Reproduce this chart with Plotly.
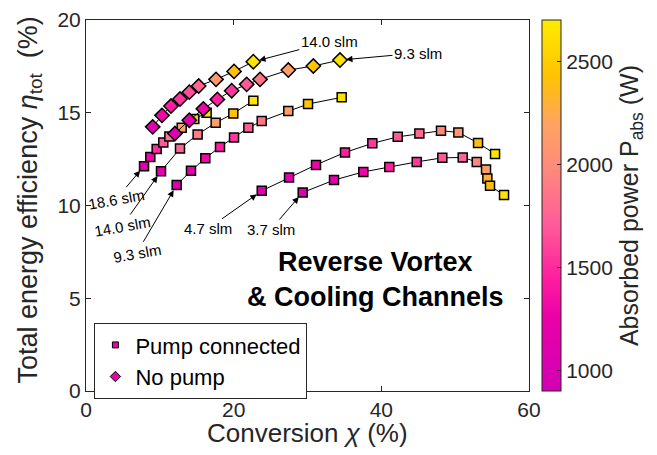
import plotly.graph_objects as go

# ---------------- data ----------------
# No pump (diamonds)
np14_x = [9.03, 10.29, 11.51, 12.73, 13.99, 15.26, 17.61, 20.05, 22.66]
np14_y = [14.24, 14.86, 15.36, 15.74, 16.11, 16.44, 16.80, 17.23, 17.75]
np14_p = [1100, 1300, 1450, 1550, 1650, 1750, 2100, 2400, 2650]

np93_x = [12.05, 13.99, 15.89, 17.79, 19.73, 21.76, 23.57, 27.40, 30.79, 34.40]
np93_y = [13.88, 14.60, 15.21, 15.72, 16.19, 16.53, 16.80, 17.30, 17.52, 17.84]
np93_p = [1050, 1150, 1300, 1450, 1550, 1700, 1850, 2150, 2450, 2650]

# Pump connected (squares)
p186_x = [7.86, 8.71, 9.57, 10.47, 11.29, 12.96, 14.67, 16.34]
p186_y = [12.12, 12.62, 13.04, 13.40, 13.72, 14.19, 14.66, 15.00]
p186_p = [1050, 1300, 1500, 1700, 1850, 2150, 2500, 2650]

p140_x = [10.16, 12.73, 15.12, 17.56, 19.95, 22.66]
p140_y = [11.85, 13.07, 13.83, 14.46, 14.96, 15.65]
p140_p = [1100, 1750, 1900, 2150, 2400, 2650]

p93_x = [12.28, 14.22, 16.16, 18.15, 20.05, 21.99, 23.80, 27.40, 30.07, 34.63]
p93_y = [11.10, 11.87, 12.55, 13.16, 13.67, 14.19, 14.55, 15.09, 15.47, 15.83]
p93_p = [1050, 1150, 1300, 1450, 1550, 1700, 1850, 2150, 2450, 2650]

p47_x = [23.80, 27.50, 31.15, 35.08, 38.78, 42.22, 45.15, 48.08, 50.43, 53.10, 55.40]
p47_y = [10.79, 11.51, 12.19, 12.86, 13.35, 13.70, 13.88, 14.03, 13.94, 13.37, 12.78]
p47_p = [1050, 1150, 1300, 1450, 1550, 1700, 1800, 1950, 2100, 2400, 2650]

p37_x = [29.35, 33.59, 37.56, 41.08, 44.79, 48.26, 51.02, 52.92, 54.18, 54.36, 54.72, 56.62]
p37_y = [10.70, 11.37, 11.81, 12.08, 12.35, 12.57, 12.59, 12.35, 11.94, 11.46, 11.06, 10.56]
p37_p = [1050, 1150, 1300, 1450, 1550, 1700, 1750, 1950, 2150, 2300, 2400, 2650]

x_ticks = [0, 20, 40, 60]
y_ticks = [0, 5, 10, 15, 20]
cb_ticks = [1000, 1500, 2000, 2500]

x_title = "Conversion <i>χ</i> (%)"
y_title = "Total energy efficiency <i>η</i><sub>tot</sub>  (%)"

# --------------- styling ---------------
FONT = "Liberation Sans, Arial, Helvetica, sans-serif"
TXT = "#262626"
CMIN, CMAX = 900, 2700
cscale = [
    [0.0, "#D200B4"],
    [0.2, "#EC00A8"],
    [0.3, "#FF1CA0"],
    [0.45, "#FF5C98"],
    [0.6, "#FF8A7C"],
    [0.72, "#FFA462"],
    [0.85, "#FFC300"],
    [1.0, "#FFEC00"],
]

fig = go.Figure()

series = [
    (p37_x, p37_y, p37_p, "square", 9),
    (p47_x, p47_y, p47_p, "square", 9),
    (p93_x, p93_y, p93_p, "square", 9),
    (p140_x, p140_y, p140_p, "square", 9),
    (p186_x, p186_y, p186_p, "square", 9),
    (np93_x, np93_y, np93_p, "diamond", 11),
    (np14_x, np14_y, np14_p, "diamond", 11),
]

for i, (xs, ys, ps, sym, sz) in enumerate(series):
    fig.add_trace(go.Scatter(
        x=xs, y=ys, mode="lines+markers", showlegend=False,
        line=dict(color="black", width=1),
        marker=dict(symbol=sym, size=sz, color=ps, colorscale=cscale,
                    cmin=CMIN, cmax=CMAX,
                    line=dict(color="black", width=1.5),
                    showscale=(i == 0),
                    colorbar=dict(
                        x=1.0287, xanchor="left", xref="paper",
                        y=0.5, yanchor="middle", len=1.0, lenmode="fraction",
                        xpad=0, ypad=0,
                        thickness=19, outlinewidth=1, outlinecolor=TXT,
                        tickvals=cb_ticks, ticks="inside", ticklen=4,
                        tickcolor=TXT,
                        tickfont=dict(family=FONT, size=21, color=TXT),
                        title=dict(text="Absorbed power P<sub>abs</sub> (W)",
                                   side="right",
                                   font=dict(family=FONT, size=25, color=TXT)),
                    ) if i == 0 else None),
    ))

# legend entries
fig.add_trace(go.Scatter(x=[None], y=[None], mode="markers", name="Pump connected",
                         marker=dict(symbol="square", size=6, color="#E800AA",
                                     line=dict(color="black", width=1))))
fig.add_trace(go.Scatter(x=[None], y=[None], mode="markers", name="No pump",
                         marker=dict(symbol="diamond", size=8, color="#E800AA",
                                     line=dict(color="black", width=1))))

# --------------- annotations ---------------
ann_font = dict(family=FONT, size=15, color="black")
labels = [
    ("14.0 slm", np14_x[-1], np14_y[-1], 76, -20, 0),
    ("9.3 slm", np93_x[-1], np93_y[-1], 78, -7, 0),
    ("18.6 slm", p186_x[0], p186_y[0], -28, 33, -10),
    ("14.0 slm", p140_x[0], p140_y[0], -39, 55, -10),
    ("9.3 slm", p93_x[0], p93_y[0], -40, 68, -10),
    ("4.7 slm", p47_x[0], p47_y[0], -54, 38, 0),
    ("3.7 slm", p37_x[0], p37_y[0], -32, 37, 0),
]
for text, ax0, ay0, dx, dy, ang in labels:
    fig.add_annotation(x=ax0, y=ay0, xref="x", yref="y", text=text,
                       ax=dx, ay=dy, showarrow=True, arrowhead=2,
                       arrowsize=1.3, arrowwidth=1, arrowcolor="black",
                       standoff=6, textangle=ang, font=ann_font)

fig.add_annotation(x=0.654, y=0.208, xref="paper", yref="paper",
                   text="<b>Reverse Vortex</b><br><b>& Cooling Channels</b>",
                   showarrow=False, align="center",
                   font=dict(family=FONT, size=27, color="black"))

# axis titles (placed as annotations for exact positioning)
fig.add_annotation(x=0.5, y=0, xref="paper", yref="paper", text=x_title,
                   showarrow=False, xanchor="center", yanchor="middle",
                   yshift=-42, font=dict(family=FONT, size=26, color=TXT))
fig.add_annotation(x=0, y=0.5, xref="paper", yref="paper", text=y_title,
                   showarrow=False, xanchor="center", yanchor="middle",
                   textangle=-90, xshift=-57, yshift=5,
                   font=dict(family=FONT, size=27, color=TXT))

# --------------- layout ---------------
axis_common = dict(showline=True, linecolor=TXT, linewidth=1, mirror="ticks",
                   ticks="inside", ticklen=5, tickcolor=TXT, showgrid=False,
                   zeroline=False, automargin=False,
                   tickfont=dict(family=FONT, size=21, color=TXT))

# page body adds an 8px offset; figure size/margins compensate for it
fig.update_layout(
    width=641, height=439,
    margin=dict(l=78, r=120, t=12, b=56, autoexpand=False),
    paper_bgcolor="white", plot_bgcolor="white",
    font=dict(family=FONT, color=TXT),
    xaxis=dict(range=[0, 60], tickvals=x_ticks, **axis_common),
    yaxis=dict(range=[0, 20], tickvals=y_ticks, **axis_common),
    legend=dict(x=0.019, y=0.183, xanchor="left", yanchor="top",
                bgcolor="white", bordercolor=TXT, borderwidth=1,
                font=dict(family=FONT, size=22, color="black"),
                itemsizing="trace"),
)

fig.write_html("out.html")
